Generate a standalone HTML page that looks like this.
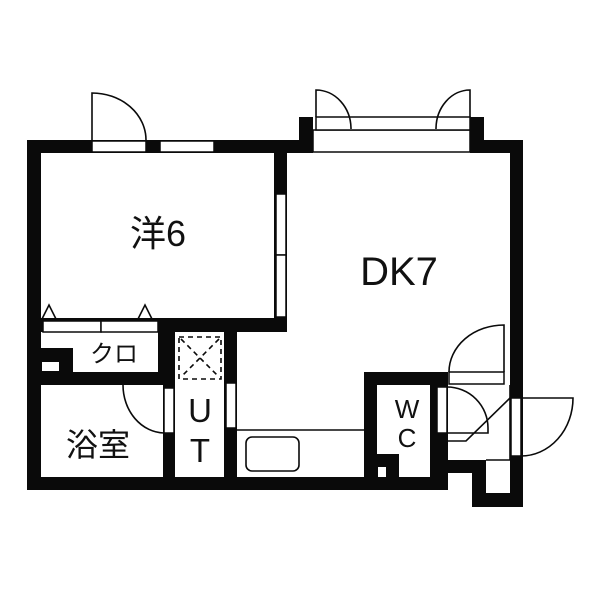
<!DOCTYPE html>
<html><head><meta charset="utf-8"><style>
html,body{margin:0;padding:0;background:#fff;}
svg{display:block;}
text{font-family:"Liberation Sans","Noto Sans CJK JP",sans-serif;fill:#111;}
</style></head><body>
<svg width="600" height="600" viewBox="0 0 600 600" xmlns="http://www.w3.org/2000/svg">
<rect width="600" height="600" fill="#fff"/>
<g fill="#0a0a0a">
<rect x="27" y="140" width="14" height="350"/>
<rect x="27" y="140" width="273" height="13"/>
<rect x="299" y="117" width="14" height="36"/>
<rect x="470" y="117" width="14" height="36"/>
<rect x="470" y="140" width="53" height="13"/>
<rect x="510" y="140" width="13" height="367"/>
<rect x="274" y="140" width="13" height="192"/>
<rect x="41" y="318" width="246" height="14"/>
<rect x="41" y="348" width="32" height="24"/>
<rect x="41" y="372" width="134" height="13"/>
<rect x="158" y="332" width="17" height="53"/>
<rect x="163" y="332" width="12" height="158"/>
<rect x="224" y="318" width="13" height="172"/>
<rect x="27" y="477" width="421" height="13"/>
<rect x="364" y="372" width="13" height="118"/>
<rect x="364" y="372" width="84" height="13"/>
<rect x="430" y="372" width="18" height="118"/>
<rect x="377" y="454" width="22" height="23"/>
<rect x="447" y="460" width="39" height="13"/>
<rect x="472" y="460" width="14" height="47"/>
<rect x="472" y="493" width="51" height="14"/>
</g>
<g fill="#fff" stroke="#0a0a0a" stroke-width="1.5">
<rect x="92" y="141" width="54" height="11"/>
<rect x="160" y="141" width="54" height="11"/>
<rect x="276" y="194" width="10" height="61"/>
<rect x="276" y="255" width="10" height="62"/>
<rect x="43" y="321" width="58" height="11"/>
<rect x="101" y="321" width="57" height="11"/>
<rect x="313" y="130" width="157" height="22"/>
<rect x="316" y="117" width="154" height="13"/>
<rect x="164" y="388" width="10" height="45"/>
<rect x="226" y="383" width="10" height="45"/>
<rect x="449" y="372" width="55" height="12"/>
<rect x="437" y="387" width="10" height="46"/>
<rect x="511" y="398" width="10" height="58"/>
</g>
<rect x="42" y="362" width="17" height="9" fill="#fff"/>
<rect x="378" y="467" width="8" height="10" fill="#fff"/>
<rect x="486" y="461" width="24" height="32" fill="#fff"/>
<g fill="none" stroke="#0a0a0a" stroke-width="1.6">
<path d="M92 141 V93 A54 47 0 0 1 146 140"/>
<path d="M316 117 V90 A35 39 0 0 1 351 129"/>
<path d="M470 117 V90 A34 39 0 0 0 436 129"/>
<path d="M42 319 L49 305 L56 319"/>
<path d="M138 319 L145 305 L152 319"/>
<path d="M123 385 A42 48 0 0 0 164 433"/>
<rect x="179" y="337" width="42" height="42" stroke-dasharray="5,4"/>
<path d="M181 339 L219 377 M219 339 L181 377" stroke-dasharray="5,4"/>
<path d="M237 430 H364"/>
<rect x="246" y="437" width="53" height="34" rx="6"/>
<path d="M504 372 V325 A55 47 0 0 0 449 372"/>
<path d="M447 387 A41 41 0 0 1 488 428 V433 H447"/>
<path d="M447 441 H466 L510 398"/>
<path d="M510 385 V460 H486"/>
<path d="M521 398 H573 A52 58 0 0 1 521 456"/>
</g>
<text x="158" y="246" font-size="36" text-anchor="middle">洋6</text>
<text x="399" y="285" font-size="40" text-anchor="middle">DK7</text>
<text x="114" y="362" font-size="24" text-anchor="middle">クロ</text>
<text x="98" y="456" font-size="32" text-anchor="middle">浴室</text>
<text x="200" y="422" font-size="33" text-anchor="middle">U</text>
<text x="200" y="462" font-size="33" text-anchor="middle">T</text>
<text x="407" y="418" font-size="26" text-anchor="middle">W</text>
<text x="407" y="447" font-size="26" text-anchor="middle">C</text>
</svg>
</body></html>
